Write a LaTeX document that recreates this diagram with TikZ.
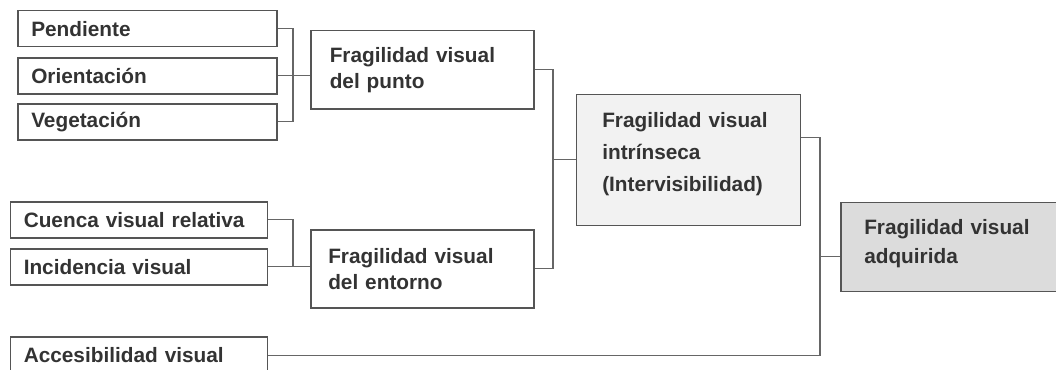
\documentclass[tikz,border=0pt]{standalone}
\usepackage{fontspec}
\setmainfont{Liberation Sans}
\usepackage{xcolor}
\usepackage{tikz}

\definecolor{boxline}{HTML}{555555}
\definecolor{linkline}{HTML}{666666}
\definecolor{txt}{HTML}{333333}
\definecolor{lightfill}{HTML}{F2F2F2}
\definecolor{darkfill}{HTML}{DCDCDC}

\begin{document}
\begin{tikzpicture}[x=1pt,y=-1pt,
  box/.style={draw=boxline, line width=1.5pt, anchor=north west, align=left,
    inner ysep=0pt, text=txt, font=\fontsize{20.8}{26}\selectfont\bfseries},
  smallbox/.style={box, minimum width=259pt, minimum height=36pt,
    inner xsep=13.5pt, text width=232pt},
  midbox/.style={box, minimum width=223pt, minimum height=78pt,
    inner xsep=19pt, text width=185pt},
  link/.style={draw=linkline, line width=1.2pt}]

\useasboundingbox (0,0) rectangle (1056,369);
\clip (0,0) rectangle (1056,369);

% factores del punto
\node[smallbox] (pend) at (17,10) {Pendiente};
\node[smallbox] (orient) at (17,57) {Orientación};
\node[smallbox] (veget) at (17,103) {Vegetación};
\node[midbox] (punto) at (310,30) {Fragilidad visual\\del punto};

% factores del entorno
\node[smallbox, minimum width=257pt, text width=230pt] (cuenca) at (9.5,201) {Cuenca visual relativa};
\node[smallbox, minimum width=257pt, text width=230pt] (incid) at (9.5,248) {Incidencia visual};
\node[midbox, inner xsep=17.5pt, text width=188pt] (entorno) at (310,229) {Fragilidad visual\\del entorno};
\node[smallbox, minimum width=257pt, text width=230pt, minimum height=37pt] (acces) at (9.5,336) {Accesibilidad visual};

\node[box, fill=lightfill, minimum width=224pt, minimum height=131pt, inner xsep=26pt,
  text width=172pt, font=\fontsize{20.8}{32}\selectfont\bfseries] (intr) at (575.5,93.5)
  {Fragilidad visual\\intrínseca\\(Intervisibilidad)\par\vspace*{11pt}};
\node[box, fill=darkfill, minimum width=240pt, minimum height=89pt, inner xsep=23.5pt,
  text width=193pt, font=\fontsize{20.8}{29}\selectfont\bfseries] (adq) at (840,201.5)
  {Fragilidad visual\\adquirida\par\vspace*{6pt}};

\coordinate (j1) at (293,0);
\coordinate (j2) at (553,0);
\coordinate (j3) at (820,0);
\coordinate (introut) at ([yshift=22pt]intr.east);
\coordinate (adqin) at ([yshift=-10pt]adq.west);

\draw[link] (pend.east) -| (j1 |- veget.east) -- (veget.east);
\draw[link] (orient.east) -- (orient.east -| punto.west);
\draw[link] (cuenca.east) -| (j1 |- incid.east);
\draw[link] (incid.east) -- (incid.east -| entorno.west);

\draw[link] (punto.east) -| (j2 |- entorno.east) -- (entorno.east);
\draw[link] (j2 |- intr.west) -- (intr.west);

\draw[link] (introut) -| (j3 |- acces.east) -- (acces.east);
\draw[link] (j3 |- adqin) -- (adqin);

\end{tikzpicture}
\end{document}
